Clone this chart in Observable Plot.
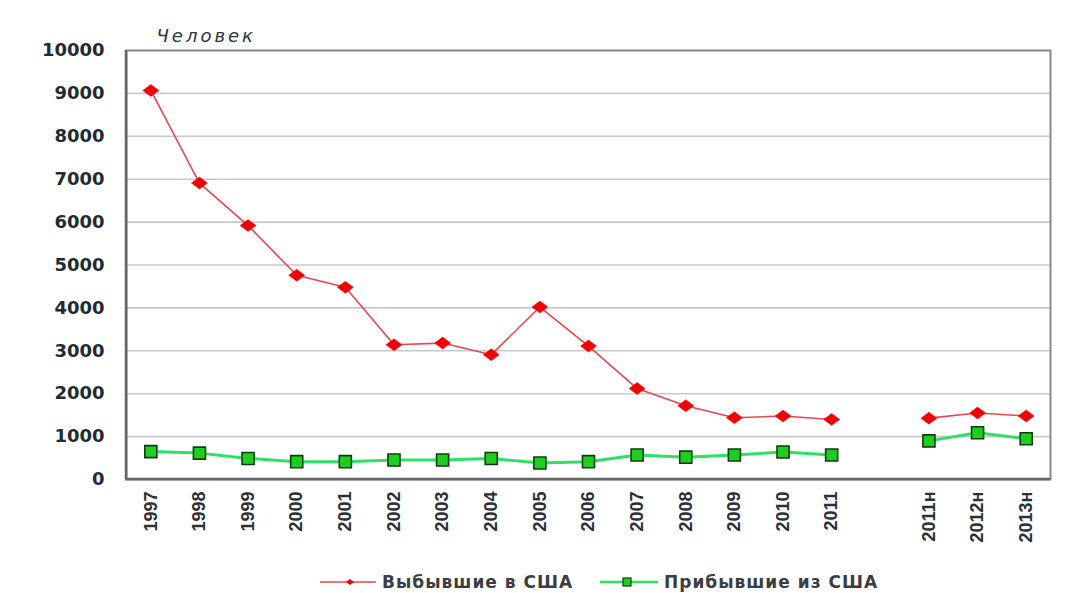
<!DOCTYPE html>
<html><head><meta charset="utf-8">
<script src="https://cdn.jsdelivr.net/npm/d3@7"></script>
<script src="https://cdn.jsdelivr.net/npm/@observablehq/plot@0.6"></script>
<style>
body{margin:0;background:#fff;font-family:"Liberation Sans",Arial,sans-serif;}
#legend{position:relative;height:33px;font-family:"DejaVu Sans",sans-serif;font-weight:bold;font-size:17px;letter-spacing:1px;color:#3a3d42;}
#legend .item{position:absolute;top:12px;height:20px;display:flex;align-items:center;white-space:nowrap;}
#legend svg{display:block;margin-right:4px;}
</style></head><body>
<div id="chart"></div>
<div id="legend"></div>
<script>
const unitLabel = "Человек";
const years = ["1997","1998","1999","2000","2001","2002","2003","2004","2005","2006","2007","2008","2009","2010","2011"];
const forecastYears = ["2011н","2012н","2013н"];
const departed = [9070,6910,5920,4760,4480,3140,3180,2910,4020,3110,2120,1720,1440,1480,1400];
const departedForecast = [1430,1550,1480];
const arrived = [650,615,490,415,415,455,455,490,385,415,570,520,570,640,570];
const arrivedForecast = [900,1090,950];
const yTicks = [0,1000,2000,3000,4000,5000,6000,7000,8000,9000,10000];
const seriesNames = ["Выбывшие в США","Прибывшие из США"];

const gap = " ";
const xDomain = [...years, gap, ...forecastYears];

const rows = [];
years.forEach((y,i)=>{
  rows.push({x:y, v:departed[i], s:seriesNames[0], seg:"fact"});
  rows.push({x:y, v:arrived[i], s:seriesNames[1], seg:"fact"});
});
forecastYears.forEach((y,i)=>{
  rows.push({x:y, v:departedForecast[i], s:seriesNames[0], seg:"forecast"});
  rows.push({x:y, v:arrivedForecast[i], s:seriesNames[1], seg:"forecast"});
});
const dep = rows.filter(d=>d.s===seriesNames[0]);
const arr = rows.filter(d=>d.s===seriesNames[1]);

const flatDiamond = {
  draw(context, size){
    const r = Math.sqrt(size/Math.PI);
    const hw = r*1.33, hh = r;
    context.moveTo(0,-hh); context.lineTo(hw,0); context.lineTo(0,hh); context.lineTo(-hw,0); context.closePath();
  }
};

const chart = Plot.plot({
  width: 1065, height: 560,
  marginLeft: 126, marginRight: 15, marginTop: 50, marginBottom: 81,
  style: {fontFamily: '"Liberation Sans", Arial, sans-serif', background: "#fff", overflow: "visible"},
  x: {type: "point", domain: xDomain, padding: 0.5, round: false, label: null},
  y: {domain: [0,10000], label: null},
  marks: [
    Plot.ruleY(yTicks, {stroke: "#c9c9c9", strokeWidth: 1.6}),
    Plot.frame({stroke: "#8a8a8a", strokeWidth: 2}),
    Plot.axisY({ticks: yTicks, tickSize: 0, tickPadding: 22, tickFormat: d=>String(d), fontSize: 18, fontWeight: "bold", fill: "#222a33", fontFamily: '"DejaVu Sans", sans-serif'}),
    Plot.axisX({tickSize: 0, tickPadding: 12, tickRotate: -90, fontSize: 18, fontWeight: "bold", fill: "#2a3038", fontFamily: '"Liberation Sans", Arial, sans-serif', tickFormat: d=>d===gap?"":d}),
    Plot.line(arr, {x: "x", y: "v", z: "seg", stroke: "#2fe067", strokeWidth: 3}),
    Plot.dot(arr, {x: "x", y: "v", symbol: "square", r: 6.8, fill: "#1fcf1f", stroke: "#0f3d12", strokeWidth: 1.6}),
    Plot.line(dep, {x: "x", y: "v", z: "seg", stroke: "#e8474f", strokeWidth: 1.6}),
    Plot.dot(dep, {x: "x", y: "v", symbol: flatDiamond, r: 6, fill: "#f00000", stroke: "#f00000", strokeWidth: 0.5}),
    Plot.text([unitLabel], {frameAnchor: "top-left", dx: 30, dy: -14, text: d=>d, textAnchor: "start", lineAnchor: "middle", fontSize: 18, fontStyle: "italic", fill: "#2a3540", fontFamily: '"DejaVu Sans", sans-serif'})
  ]
});
document.getElementById("chart").appendChild(chart);
const svg = d3.select(chart);
svg.selectAll("text").filter(function(){ return this.textContent === unitLabel; }).attr("letter-spacing", "3px");
svg.append("line").attr("x1",126).attr("x2",126).attr("y1",50).attr("y2",479).attr("stroke","#666").attr("stroke-width",2.5);
svg.append("line").attr("x1",125).attr("x2",1050).attr("y1",479).attr("y2",479).attr("stroke","#666").attr("stroke-width",2.5);

const legend = document.getElementById("legend");
legend.innerHTML = `
<div class="item" style="left:320px"><svg width="58" height="14"><line x1="0" x2="56" y1="7" y2="7" stroke="#e8474f" stroke-width="1.6"/><path d="M26,7 L30,4 L34,7 L30,10 Z" fill="#f00000"/></svg><span>${seriesNames[0]}</span></div>
<div class="item" style="left:600px"><svg width="60" height="14"><line x1="0" x2="58" y1="7" y2="7" stroke="#2fe067" stroke-width="2.5"/><rect x="23" y="3" width="8" height="8" fill="#1fcf1f" stroke="#0f3d12" stroke-width="1.2"/></svg><span>${seriesNames[1]}</span></div>`;
</script>
</body></html>
